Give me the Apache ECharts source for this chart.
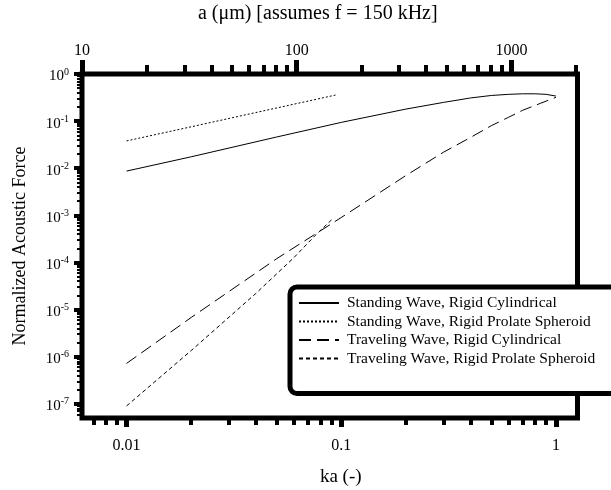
<!DOCTYPE html>
<html><head><meta charset="utf-8">
<script src="https://cdn.jsdelivr.net/npm/echarts@6/dist/echarts.min.js"></script>
<style>html,body{margin:0;padding:0;background:#fff}#c{width:611px;height:490px}</style>
</head><body><div id="c"></div>
<script>
// ---- data ----
const kaTicks = [0.01, 0.1, 1];
const kaTickLabels = ['0.01', '0.1', '1'];
const kaMinorTicks = [0.007, 0.008, 0.009, 0.02, 0.03, 0.04, 0.05, 0.06, 0.07, 0.08, 0.09, 0.2, 0.3, 0.4, 0.5, 0.6, 0.7, 0.8, 0.9];
const aTicks = [10, 100, 1000];
const aTickLabels = ['10', '100', '1000'];
const aMinorTicks = [20, 30, 40, 50, 60, 70, 80, 90, 200, 300, 400, 500, 600, 700, 800, 900, 2000];
const forceExponents = [-7, -6, -5, -4, -3, -2, -1, 0];
const kaRange = [0.0062, 1.26];
const forceRange = [5.0e-8, 1];
const aPerKa = 10 / 0.0062; // µm per unit ka at f = 150 kHz

const seriesNames = [
  'Standing Wave, Rigid Cylindrical',
  'Standing Wave, Rigid Prolate Spheroid',
  'Traveling Wave, Rigid Cylindrical',
  'Traveling Wave, Rigid Prolate Spheroid'
];
const standCylKa = [0.01, 0.02, 0.05, 0.1, 0.2, 0.3, 0.4, 0.5, 0.6, 0.7, 0.8, 0.9, 1.0];
const standCylF  = [0.0087, 0.0175, 0.046, 0.094, 0.18, 0.25, 0.31, 0.35, 0.37, 0.38, 0.38, 0.37, 0.34];
const standSphKa = [0.01, 0.02, 0.04, 0.07, 0.094];
const standSphF  = [0.038, 0.0758, 0.152, 0.266, 0.357];
const travCylKa  = [0.01, 0.02, 0.05, 0.1, 0.2, 0.3, 0.4, 0.5, 0.6, 0.7, 0.85, 1.0];
const travCylF   = [7.2e-7, 6.8e-6, 1.2e-4, 9.0e-4, 7.0e-3, 0.022, 0.045, 0.08, 0.12, 0.17, 0.24, 0.32];
const travSphKa  = [0.01, 0.02, 0.04, 0.06, 0.075, 0.09];
const travSphF   = [9e-8, 1.35e-6, 2.2e-5, 1.25e-4, 3.6e-4, 8e-4];

// ---- build chart ----
const L = Math.log10;
const FONT = 'Liberation Serif';
const pts = (xs, ys) => xs.map((x, i) => [L(x), L(ys[i])]);
const near = (arr, v) => arr.findIndex(t => Math.abs(L(t) - v) < 1e-6);

const chart = echarts.init(document.getElementById('c'), null, {renderer: 'canvas'});
const xMin = L(kaRange[0]), xMax = L(kaRange[1]);
const aMin = L(kaRange[0] * aPerKa) - 1e-9, aMax = L(kaRange[1] * aPerKa);
const yMin = L(forceRange[0]), yMax = L(forceRange[1]);

const hidden = {show: false};
function axisBase(extra) {
  return Object.assign({
    type: 'value', gridIndex: 0, splitLine: hidden, axisLine: {show: false, onZero: false}, scale: true
  }, extra);
}

chart.setOption({
  animation: false,
  backgroundColor: '#fff',
  grid: {left: 82, right: 33.5, top: 74, bottom: 72, show: true, borderColor: '#000', borderWidth: 5,
    backgroundColor: 'transparent', containLabel: false, outerBoundsMode: 'none'},
  xAxis: [
    axisBase({
      position: 'bottom', min: xMin, max: xMax,
      axisTick: {show: true, customValues: kaTicks.map(L), length: 9, lineStyle: {color: '#000', width: 5}},
      axisLabel: {show: true, customValues: kaTicks.map(L), margin: 20, color: '#000', fontFamily: FONT, fontSize: 16,
        formatter: v => kaTickLabels[near(kaTicks, v)]},
      name: 'ka (-)', nameLocation: 'middle', nameGap: 50,
      nameTextStyle: {color: '#000', fontFamily: FONT, fontSize: 19, padding: [0, 0, 0, 22]}
    }),
    axisBase({
      position: 'bottom', min: xMin, max: xMax,
      axisTick: {show: true, customValues: kaMinorTicks.map(L), length: 7, lineStyle: {color: '#000', width: 4}},
      axisLabel: hidden
    }),
    axisBase({
      position: 'top', min: aMin, max: aMax,
      axisTick: {show: true, customValues: aTicks.map(L), length: 14, lineStyle: {color: '#000', width: 5}},
      axisLabel: {show: true, customValues: aTicks.map(L), margin: 15, color: '#000', fontFamily: FONT, fontSize: 16,
        formatter: v => aTickLabels[near(aTicks, v)]},
      name: 'a (\u03bcm) [assumes f = 150 kHz]', nameLocation: 'middle', nameGap: 50,
      nameTextStyle: {color: '#000', fontFamily: FONT, fontSize: 20, padding: [0, 24, 0, 0]}
    }),
    axisBase({
      position: 'top', min: aMin, max: aMax,
      axisTick: {show: true, customValues: aMinorTicks.map(L), length: 9, lineStyle: {color: '#000', width: 4}},
      axisLabel: hidden
    })
  ],
  yAxis: [
    axisBase({
      position: 'left', min: yMin, max: yMax,
      axisTick: {show: true, customValues: forceExponents, length: 8, lineStyle: {color: '#000', width: 4}},
      axisLabel: {show: true, customValues: forceExponents, margin: 13, color: '#000', fontFamily: FONT,
        formatter: v => '{b|10}{s|' + Math.round(v) + '}',
        rich: {
          b: {fontFamily: FONT, fontSize: 15, color: '#000', verticalAlign: 'bottom', lineHeight: 20},
          s: {fontFamily: FONT, fontSize: 10, color: '#000', verticalAlign: 'bottom', lineHeight: 20, padding: [0, 0, 7, 0]}
        }},
      name: 'Normalized Acoustic Force', nameLocation: 'middle', nameGap: 53,
      nameTextStyle: {color: '#000', fontFamily: FONT, fontSize: 18}
    }),
    axisBase({
      position: 'left', min: yMin, max: yMax,
      axisTick: {show: true, customValues: (function () {
        const out = [];
        for (let e = -8; e < 0; e++) for (let k = 2; k <= 9; k++) out.push(e + L(k));
        return out.filter(v => v > yMin && v < yMax);
      })(), length: 5, lineStyle: {color: '#000', width: 2}},
      axisLabel: hidden
    })
  ],
  legend: {
    show: true, orient: 'vertical', left: 290, top: 287,
    padding: [8, 60, 27, 8], itemGap: 2.5, itemWidth: 40, itemHeight: 14,
    backgroundColor: '#fff', borderColor: '#000', borderWidth: 5, borderRadius: 7,
    itemStyle: {opacity: 0},
    textStyle: {color: '#000', fontFamily: FONT, fontSize: 15.5, padding: [0, 0, 0, 3]},
    data: seriesNames, z: 10
  },
  series: [
    {name: seriesNames[0], data: pts(standCylKa, standCylF), lineStyle: {type: 'solid'}},
    {name: seriesNames[1], data: pts(standSphKa, standSphF), lineStyle: {type: [2, 2]}},
    {name: seriesNames[2], data: pts(travCylKa, travCylF), lineStyle: {type: [12, 6]}},
    {name: seriesNames[3], data: pts(travSphKa, travSphF), lineStyle: {type: [4, 3]}}
  ].map(s => Object.assign({
    type: 'line', xAxisIndex: 0, yAxisIndex: 0, symbol: 'none', smooth: false,
    itemStyle: {color: '#000'}, clip: true
  }, s, {lineStyle: Object.assign({color: '#000', width: 1}, s.lineStyle)}))
});
</script></body></html>
